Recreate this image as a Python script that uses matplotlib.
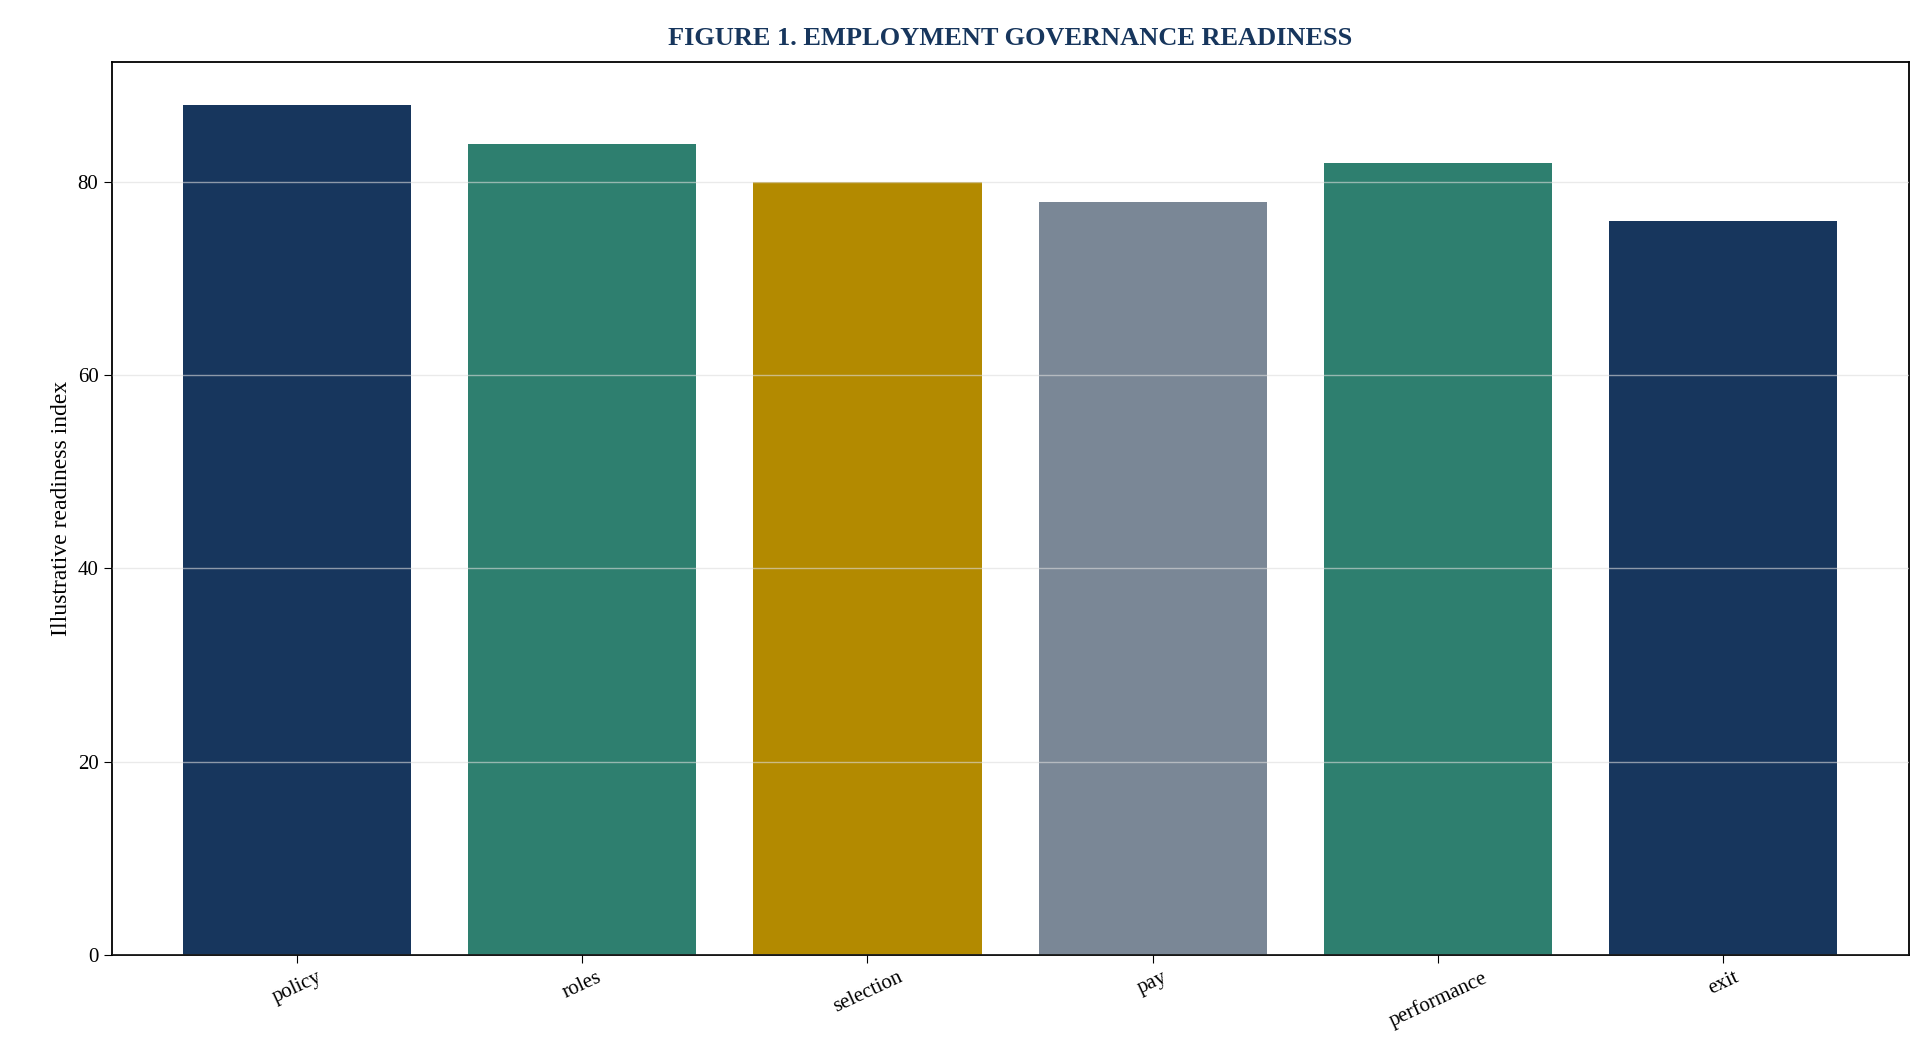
import matplotlib
matplotlib.use("Agg")
import matplotlib.pyplot as plt

categories = ["policy", "roles", "selection", "pay", "performance", "exit"]
values = [88, 84, 80, 78, 82, 76]
colors = ["#17365d", "#2e7f6f", "#b38a00", "#7a8796", "#2e7f6f", "#17365d"]

plt.rcParams['font.family'] = ['Liberation Serif', 'DejaVu Serif']
fig = plt.figure(figsize=(19.24, 10.63), dpi=100)
ax = fig.add_axes([0.058, 0.102, 0.934, 0.84])
ax.bar(categories, values, color=colors, width=0.8)
ax.set_ylim(0, 92.5)
ax.set_xlim(-0.65, 5.65)
ax.yaxis.grid(True, color="#dddddd", alpha=0.6, linewidth=1)
ax.set_axisbelow(False)
ax.set_yticks([0, 20, 40, 60, 80])
ax.tick_params(axis='both', labelsize=15, length=6)
plt.setp(ax.get_xticklabels(), rotation=25)
ax.set_ylabel("Illustrative readiness index", fontsize=17)
ax.set_title("FIGURE 1. EMPLOYMENT GOVERNANCE READINESS", fontsize=19,
             fontweight='bold', color="#17365d", pad=12)
for s in ax.spines.values():
    s.set_linewidth(1.3)
fig.savefig("out.png", dpi=100)
